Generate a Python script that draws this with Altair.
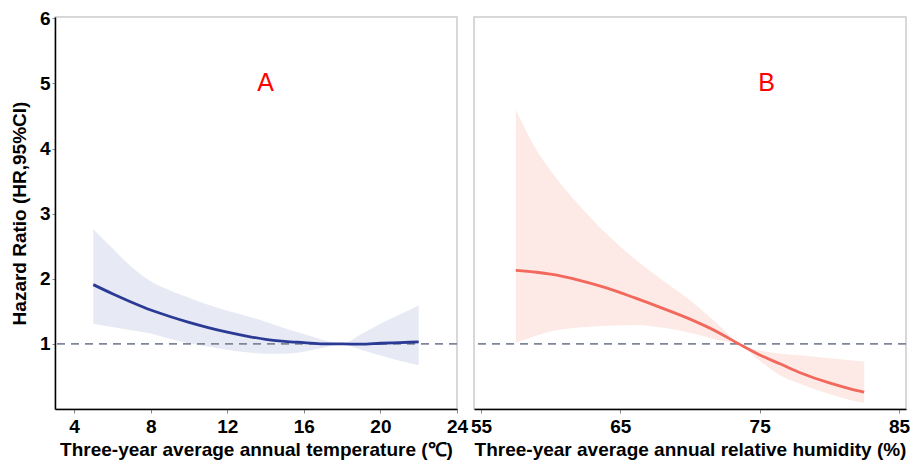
import altair as alt
import pandas as pd

# ---- Panel A: temperature ----
temp = [5, 6, 7, 8, 9, 10, 11, 12, 13, 14, 15, 16, 17, 18, 19, 20, 21, 22]
temp_hr = [1.91, 1.77, 1.64, 1.52, 1.42, 1.33, 1.25, 1.18, 1.12, 1.07, 1.04, 1.02, 1.0, 1.0, 0.995, 1.01, 1.02, 1.03]
temp_up = [2.76, 2.47, 2.18, 1.96, 1.82, 1.71, 1.60, 1.51, 1.43, 1.34, 1.24, 1.15, 1.06, 1.0, 1.15, 1.31, 1.45, 1.59]
temp_lo = [1.31, 1.26, 1.21, 1.16, 1.08, 1.01, 0.96, 0.91, 0.87, 0.85, 0.85, 0.88, 0.94, 1.0, 0.91, 0.82, 0.74, 0.67]

# ---- Panel B: relative humidity ----
hum = [57.5, 59, 60, 62, 64, 66, 68, 70, 72, 73.5, 75, 76.5, 78, 80, 81.5, 82.5]
hum_hr = [2.13, 2.10, 2.07, 1.98, 1.86, 1.71, 1.55, 1.38, 1.18, 1.0, 0.83, 0.69, 0.55, 0.40, 0.31, 0.26]
hum_up = [4.59, 3.97, 3.66, 3.14, 2.69, 2.31, 1.98, 1.67, 1.30, 1.0, 0.90, 0.85, 0.82, 0.78, 0.75, 0.73]
hum_lo = [1.02, 1.13, 1.19, 1.25, 1.28, 1.29, 1.25, 1.17, 1.06, 1.0, 0.74, 0.51, 0.38, 0.23, 0.14, 0.10]

ref_hr = [1]
panel_labels = ["A", "B"]
label_x = [14, 75.5]
label_y = [5, 5]

y_ticks = [1, 2, 3, 4, 5, 6]
temp_ticks = [4, 8, 12, 16, 20, 24]
hum_ticks = [55, 65, 75, 85]

dfA = pd.DataFrame({"x": temp, "hr": temp_hr, "up": temp_up, "lo": temp_lo})
dfB = pd.DataFrame({"x": hum, "hr": hum_hr, "up": hum_up, "lo": hum_lo})
ref = pd.DataFrame({"h": ref_hr})

FONT = "Liberation Sans"
y_dom = [0, 6.02]
H = 392


def panel(df, xdom, xticks, xtitle, line_col, band_col, lab, lx, ly, show_y, w):
    if show_y:
        yaxis = alt.Axis(values=y_ticks, format="d", title="Hazard Ratio (HR,95%CI)", grid=False,
                         domainColor="black", domainWidth=1.5, tickColor="#888888", tickSize=3,
                         labelPadding=2, titlePadding=10)
    else:
        yaxis = None
    xaxis = alt.Axis(values=xticks, format="d", title=xtitle, grid=False, domainColor="black",
                     domainWidth=1.5, tickColor="#888888", tickSize=4,
                     labelPadding=4, titlePadding=4, labelFlush=False)
    xs = alt.Scale(domain=xdom, nice=False, zero=False)
    ys = alt.Scale(domain=y_dom, nice=False)
    band = alt.Chart(df).mark_area(color=band_col, opacity=1, interpolate="monotone").encode(
        x=alt.X("x:Q", scale=xs, axis=xaxis),
        y=alt.Y("up:Q", scale=ys, axis=yaxis),
        y2="lo:Q",
    )
    line = alt.Chart(df).mark_line(color=line_col, strokeWidth=2.8, interpolate="monotone").encode(
        x=alt.X("x:Q", scale=xs),
        y=alt.Y("hr:Q", scale=ys),
    )
    rule = alt.Chart(ref).mark_rule(color="#7D8799", strokeDash=[8, 6], strokeWidth=1.8).encode(
        y=alt.Y("h:Q", scale=ys)
    )
    tdf = pd.DataFrame({"t": [lab], "x": [lx], "y": [ly]})
    text = alt.Chart(tdf).mark_text(color="#FF0000", fontSize=25, font=FONT).encode(
        x=alt.X("x:Q", scale=xs),
        y=alt.Y("y:Q", scale=ys),
        text="t:N",
    )
    return alt.layer(band, rule, line, text).properties(width=w, height=H)


left = panel(dfA, [3, 24], temp_ticks, "Three-year average annual temperature (℃)",
             "#2B3A95", "#E7EAF4", panel_labels[0], label_x[0], label_y[0], True, 402)
right = panel(dfB, [54.5, 85.5], hum_ticks, "Three-year average annual relative humidity (%)",
              "#F3685C", "#FDE9E5", panel_labels[1], label_x[1], label_y[1], False, 432)

chart = alt.hconcat(left, right, spacing=17, bounds="flush").resolve_scale(
    x="independent", y="independent"
).properties(
    padding={"left": 1, "top": 0, "right": 0, "bottom": 0}
).configure_view(
    stroke="#cccccc", strokeWidth=1.5
).configure_axis(
    labelFont=FONT, titleFont=FONT, labelFontSize=19, labelFontWeight="bold",
    titleFontSize=19, titleFontWeight="bold", labelColor="black", titleColor="black"
)

chart.save("out.html", embed_options={"renderer": "svg", "actions": False})
